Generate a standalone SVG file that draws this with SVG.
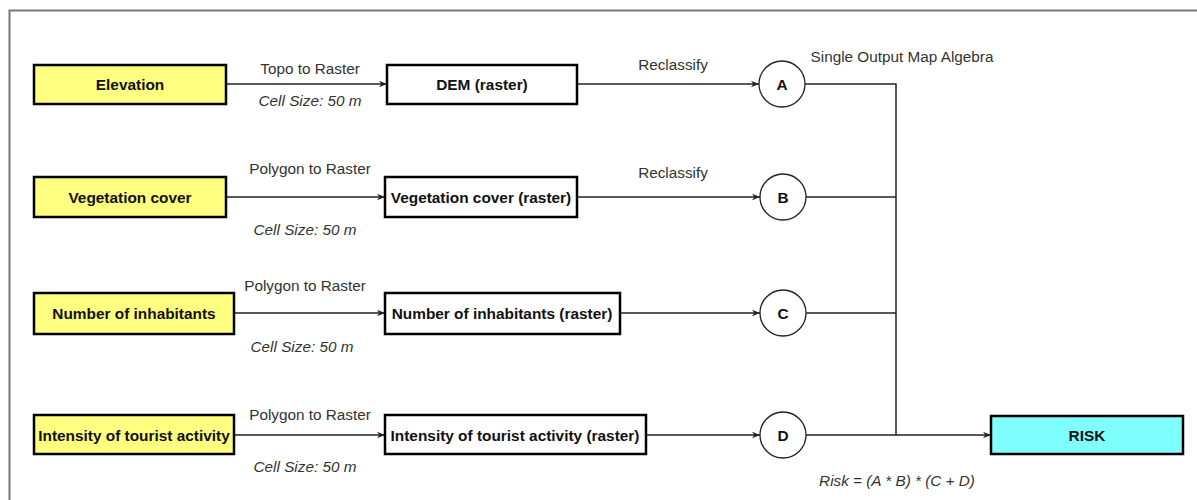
<svg xmlns="http://www.w3.org/2000/svg" width="1197" height="500" viewBox="0 0 1197 500">
<style>
.in{fill:#ffff80;stroke:#000;stroke-width:2.5}
.ras{fill:#fff;stroke:#000;stroke-width:2.5}
.risk{fill:#80ffff;stroke:#000;stroke-width:2.5}
.circ{fill:#fff;stroke:#222;stroke-width:1.3}
.b{font-family:"Liberation Sans",Arial,sans-serif;font-weight:bold;font-size:15.4px;fill:#111;text-anchor:middle;dominant-baseline:central}
.l{font-family:"Liberation Sans",Arial,sans-serif;font-size:15.3px;fill:#333;text-anchor:middle}
.i{font-family:"Liberation Sans",Arial,sans-serif;font-size:15.3px;font-style:italic;fill:#333;text-anchor:middle}
.c{fill:none;stroke:#222;stroke-width:1.5}
</style>
<defs>
<marker id="ah" viewBox="0 0 10 10" refX="10" refY="5" markerWidth="8" markerHeight="8" orient="auto" markerUnits="userSpaceOnUse">
<path d="M0,1 L10,5 L0,9 L3,5 z" fill="#222"/>
</marker>
</defs>
<rect x="9.5" y="10.5" width="1200" height="500" fill="none" stroke="#777" stroke-width="2"/>
<g id="connectors">
<line class="c" x1="226" y1="84" x2="387" y2="84" marker-end="url(#ah)"/>
<line class="c" x1="577" y1="84" x2="759" y2="84" marker-end="url(#ah)"/>
<line class="c" x1="226" y1="197" x2="385" y2="197" marker-end="url(#ah)"/>
<line class="c" x1="577" y1="197" x2="760" y2="197" marker-end="url(#ah)"/>
<line class="c" x1="234" y1="313" x2="385" y2="313" marker-end="url(#ah)"/>
<line class="c" x1="620" y1="313" x2="760" y2="313" marker-end="url(#ah)"/>
<line class="c" x1="234" y1="435" x2="385" y2="435" marker-end="url(#ah)"/>
<line class="c" x1="646" y1="435" x2="760" y2="435" marker-end="url(#ah)"/>
<polyline class="c" points="805,84 896,84 896,435"/>
<line class="c" x1="805" y1="197" x2="896" y2="197"/>
<line class="c" x1="806" y1="313" x2="896" y2="313"/>
<line class="c" x1="806" y1="435" x2="991" y2="435" marker-end="url(#ah)"/>
<text class="l" x="310" y="74">Topo to Raster</text>
<text class="i" x="310" y="106">Cell Size: 50 m</text>
<text class="l" x="673" y="70">Reclassify</text>
<text class="l" x="310" y="174">Polygon to Raster</text>
<text class="i" x="305" y="235">Cell Size: 50 m</text>
<text class="l" x="673" y="178">Reclassify</text>
<text class="l" x="305" y="291">Polygon to Raster</text>
<text class="i" x="302" y="352">Cell Size: 50 m</text>
<text class="l" x="310" y="420">Polygon to Raster</text>
<text class="i" x="305" y="472">Cell Size: 50 m</text>
<text class="l" x="902" y="62">Single Output Map Algebra</text>
<text class="i" x="897" y="486">Risk = (A * B) * (C + D)</text>
</g>
<g id="elevation"><rect class="in" x="34" y="65" width="192" height="39"/><text class="b" x="130" y="84.5">Elevation</text></g>
<g id="dem"><rect class="ras" x="387" y="65" width="190" height="39"/><text class="b" x="482" y="84.5">DEM (raster)</text></g>
<g id="A"><circle class="circ" cx="782" cy="84" r="23"/><text class="b" x="782" y="84.5">A</text></g>
<g id="vegetation"><rect class="in" x="34" y="177" width="192" height="40"/><text class="b" x="130" y="197">Vegetation cover</text></g>
<g id="vegraster"><rect class="ras" x="385" y="177" width="192" height="40"/><text class="b" x="481" y="197">Vegetation cover (raster)</text></g>
<g id="B"><circle class="circ" cx="783" cy="197" r="23"/><text class="b" x="783" y="197.5">B</text></g>
<g id="inhabitants"><rect class="in" x="34" y="293" width="200" height="41"/><text class="b" x="134" y="313.5">Number of inhabitants</text></g>
<g id="inhraster"><rect class="ras" x="385" y="293" width="235" height="41"/><text class="b" x="502" y="313.5">Number of inhabitants (raster)</text></g>
<g id="C"><circle class="circ" cx="783" cy="313" r="23"/><text class="b" x="783" y="313.5">C</text></g>
<g id="tourist"><rect class="in" x="34" y="415" width="200" height="39"/><text class="b" x="134" y="435">Intensity of tourist activity</text></g>
<g id="touraster"><rect class="ras" x="385" y="415" width="261" height="39"/><text class="b" x="515" y="435">Intensity of tourist activity (raster)</text></g>
<g id="D"><circle class="circ" cx="783" cy="435" r="23"/><text class="b" x="783" y="435.5">D</text></g>
<g id="risk"><rect class="risk" x="991" y="416" width="192" height="38"/><text class="b" x="1087" y="435">RISK</text></g>
</svg>
